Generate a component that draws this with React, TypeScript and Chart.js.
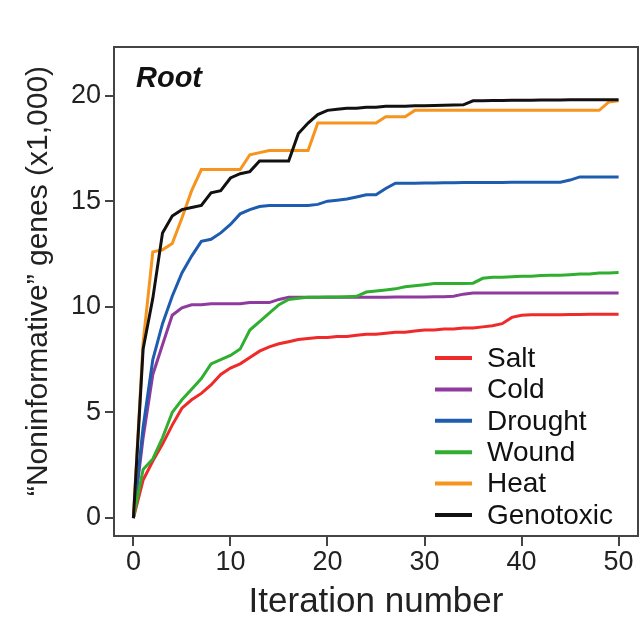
import React, { useEffect, useRef } from "react";
import { Chart, registerables } from "chart.js";

Chart.register(...registerables);

const iterations = [0, 1, 2, 3, 4, 5, 6, 7, 8, 9, 10, 11, 12, 13, 14, 15, 16, 17, 18, 19, 20, 21, 22, 23, 24, 25, 26, 27, 28, 29, 30, 31, 32, 33, 34, 35, 36, 37, 38, 39, 40, 41, 42, 43, 44, 45, 46, 47, 48, 49, 50];

const salt = [0, 1.8, 2.7, 3.5, 4.4, 5.2, 5.6, 5.9, 6.3, 6.8, 7.1, 7.3, 7.6, 7.9, 8.1, 8.25, 8.35, 8.45, 8.5, 8.55, 8.55, 8.6, 8.6, 8.65, 8.7, 8.7, 8.75, 8.8, 8.8, 8.85, 8.9, 8.9, 8.95, 8.95, 9.0, 9.0, 9.05, 9.1, 9.2, 9.5, 9.6, 9.62, 9.62, 9.63, 9.63, 9.64, 9.64, 9.65, 9.65, 9.65, 9.65];
const cold = [0, 3.8, 6.8, 8.2, 9.6, 9.95, 10.1, 10.1, 10.15, 10.15, 10.15, 10.15, 10.2, 10.2, 10.2, 10.35, 10.45, 10.45, 10.45, 10.45, 10.45, 10.45, 10.45, 10.45, 10.45, 10.45, 10.45, 10.47, 10.47, 10.47, 10.47, 10.48, 10.48, 10.5, 10.6, 10.65, 10.65, 10.65, 10.65, 10.65, 10.65, 10.65, 10.65, 10.65, 10.65, 10.65, 10.65, 10.65, 10.65, 10.65, 10.65];
const drought = [0, 4.3, 7.5, 9.2, 10.5, 11.6, 12.4, 13.1, 13.2, 13.5, 13.9, 14.4, 14.6, 14.75, 14.8, 14.8, 14.8, 14.8, 14.8, 14.85, 15.0, 15.05, 15.1, 15.2, 15.3, 15.3, 15.6, 15.85, 15.85, 15.85, 15.86, 15.86, 15.87, 15.87, 15.88, 15.88, 15.88, 15.89, 15.89, 15.9, 15.9, 15.9, 15.9, 15.9, 15.9, 16.0, 16.15, 16.15, 16.15, 16.15, 16.15];
const wound = [0, 2.3, 2.8, 3.8, 5.0, 5.6, 6.1, 6.6, 7.3, 7.5, 7.7, 8.0, 8.9, 9.3, 9.7, 10.1, 10.35, 10.4, 10.45, 10.45, 10.47, 10.47, 10.48, 10.5, 10.7, 10.75, 10.8, 10.85, 10.95, 11.0, 11.05, 11.1, 11.1, 11.1, 11.1, 11.12, 11.35, 11.4, 11.4, 11.42, 11.45, 11.45, 11.48, 11.5, 11.5, 11.52, 11.55, 11.55, 11.6, 11.6, 11.62];
const heat = [0, 8.3, 12.6, 12.7, 13.0, 14.2, 15.5, 16.5, 16.5, 16.5, 16.5, 16.5, 17.2, 17.3, 17.4, 17.4, 17.4, 17.4, 17.4, 18.7, 18.7, 18.7, 18.7, 18.7, 18.7, 18.7, 19.0, 19.0, 19.0, 19.3, 19.3, 19.3, 19.3, 19.3, 19.3, 19.3, 19.3, 19.3, 19.3, 19.3, 19.3, 19.3, 19.3, 19.3, 19.3, 19.3, 19.3, 19.3, 19.3, 19.7, 19.75];
const genotoxic = [0, 8.0, 10.4, 13.5, 14.3, 14.6, 14.7, 14.8, 15.4, 15.5, 16.1, 16.3, 16.4, 16.9, 16.9, 16.9, 16.9, 18.2, 18.7, 19.1, 19.3, 19.35, 19.4, 19.4, 19.45, 19.45, 19.5, 19.5, 19.5, 19.52, 19.52, 19.53, 19.54, 19.55, 19.56, 19.75, 19.76, 19.77, 19.77, 19.78, 19.78, 19.78, 19.79, 19.79, 19.79, 19.8, 19.8, 19.8, 19.8, 19.8, 19.8];

const seriesNames = ["Salt", "Cold", "Drought", "Wound", "Heat", "Genotoxic"];
const seriesValues = [salt, cold, drought, wound, heat, genotoxic];
const seriesColors = ["#ee2a2a", "#8e3a9e", "#1e5cb0", "#2fae2f", "#f7941d", "#111111"];

const xTicks = [0, 10, 20, 30, 40, 50];
const yTicks = [0, 5, 10, 15, 20];

const panelTitle = "Root";
const xTitle = "Iteration number";
const yTitle = "\u201CNoninformative\u201D genes (x1,000)";

const FONT = "'Liberation Sans', Arial, Helvetica, sans-serif";

const framePlugin = {
  id: "frameAndLegend",
  afterDatasetsDraw(chart: any) {
    const { ctx, chartArea } = chart;
    const { left, right, top, bottom } = chartArea;
    ctx.save();
    ctx.strokeStyle = "#444";
    ctx.lineWidth = 2;
    ctx.strokeRect(left, top, right - left, bottom - top);

    ctx.fillStyle = "#111";
    ctx.font = `italic bold 29px ${FONT}`;
    ctx.textBaseline = "alphabetic";
    ctx.textAlign = "left";
    ctx.fillText(panelTitle, left + 22, top + 40);

    ctx.font = `28px ${FONT}`;
    ctx.textBaseline = "middle";
    const n = chart.data.datasets.length;
    const rowH = 31.4;
    chart.data.datasets.forEach((ds: any, i: number) => {
      const y = bottom - 21 - (n - 1 - i) * rowH;
      ctx.strokeStyle = ds.borderColor;
      ctx.lineWidth = 4;
      ctx.beginPath();
      ctx.moveTo(right - 203, y);
      ctx.lineTo(right - 166, y);
      ctx.stroke();
      ctx.fillStyle = "#111";
      ctx.fillText(ds.label, right - 151, y + 1);
    });

    // y axis title
    ctx.save();
    ctx.translate(39, 281);
    ctx.rotate(-Math.PI / 2);
    ctx.font = `30px ${FONT}`;
    ctx.fillStyle = "#222";
    ctx.textAlign = "center";
    ctx.textBaseline = "middle";
    ctx.fillText(yTitle, 0, 0);
    ctx.restore();

    ctx.restore();
  },
};

export default function App() {
  const ref = useRef<HTMLCanvasElement | null>(null);
  useEffect(() => {
    if (!ref.current) return;
    const chart = new Chart(ref.current, {
      type: "line",
      data: {
        datasets: seriesNames.map((name, i) => ({
          label: name,
          data: iterations.map((x, j) => ({ x, y: seriesValues[i][j] })),
          borderColor: seriesColors[i],
          backgroundColor: seriesColors[i],
          borderWidth: 3,
          pointRadius: 0,
          tension: 0,
          fill: false,
          order: seriesNames.length - 1 - i,
        })),
      },
      options: {
        animation: false,
        responsive: false,
        maintainAspectRatio: false,
        layout: { padding: { top: 47, right: 3, left: 0, bottom: 0 } },
        plugins: {
          legend: { display: false },
          tooltip: { enabled: false },
        },
        scales: {
          x: {
            type: "linear",
            min: -2,
            max: 52,
            afterFit(scale: any) {
              scale.height = 88;
            },
            afterBuildTicks(scale: any) {
              scale.ticks = xTicks.map((v) => ({ value: v }));
            },
            grid: {
              display: true,
              drawOnChartArea: false,
              drawTicks: true,
              tickLength: 10,
              color: "#444",
              lineWidth: 2,
            },
            border: { display: true, color: "#444", width: 2 },
            ticks: {
              color: "#222",
              font: { family: FONT, size: 27 },
              padding: 0,
              maxRotation: 0,
              autoSkip: false,
            },
            title: {
              display: true,
              text: xTitle,
              color: "#222",
              font: { family: FONT, size: 35, lineHeight: 1 },
              padding: { top: 0, bottom: 4 },
            },
          },
          y: {
            type: "linear",
            min: -0.85,
            max: 22.3,
            afterFit(scale: any) {
              scale.width = 114;
            },
            afterBuildTicks(scale: any) {
              scale.ticks = yTicks.map((v) => ({ value: v }));
            },
            grid: {
              display: true,
              drawOnChartArea: false,
              drawTicks: true,
              tickLength: 9,
              color: "#444",
              lineWidth: 2,
            },
            border: { display: true, color: "#444", width: 2 },
            ticks: {
              color: "#222",
              font: { family: FONT, size: 27 },
              padding: 4,
              autoSkip: false,
            },
            title: { display: false },
          },
        },
      },
      plugins: [framePlugin],
    });
    return () => chart.destroy();
  }, []);
  return (
    <div style={{ position: "absolute", left: 0, top: 0, width: 641, height: 624, background: "#fff" }}>
      <canvas ref={ref} width={641} height={624} style={{ width: 641, height: 624 }} />
    </div>
  );
}
